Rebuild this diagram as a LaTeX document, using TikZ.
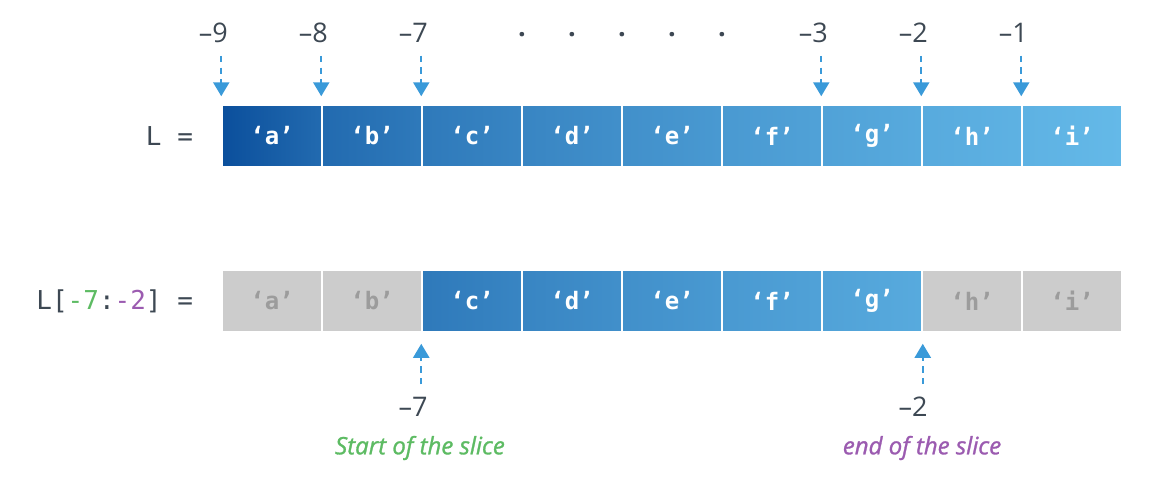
\documentclass[tikz,border=0pt]{standalone}
\usepackage{fontspec}
\setmainfont{Open Sans}
\setmonofont{DejaVu Sans Mono}
\newfontfamily\capfont[FakeBold=1.2]{Open Sans}
\usetikzlibrary{arrows.meta}

\definecolor{darkblue}{HTML}{0B4F9C}
\definecolor{lightblue}{HTML}{64B9E8}
\definecolor{arrowblue}{HTML}{3A9AD9}
\definecolor{greyfill}{HTML}{CCCCCC}
\definecolor{greytext}{HTML}{9C9C9C}
\definecolor{inkgrey}{HTML}{3D4853}
\definecolor{slicegreen}{HTML}{5DBB63}
\definecolor{slicepurple}{HTML}{9B5BB0}

\tikzset{
    cell/.style={minimum width=50pt, minimum height=31pt, inner sep=0pt,
        draw=white, line width=0.75pt, text=white,
        font=\ttfamily\bfseries\fontsize{12}{14}\selectfont},
    greycell/.style={cell, fill=greyfill, text=greytext},
    idx/.style={arrowblue, line width=1.1pt, dash pattern=on 3.2pt off 2.6pt,
        -{Triangle[width=8pt,length=7pt]}},
    num/.style={text=inkgrey, font=\fontsize{13.5}{15}\selectfont},
    lhs/.style={anchor=east, text=inkgrey, font=\ttfamily\fontsize{13}{15}\selectfont},
    caption/.style={font=\capfont\itshape\fontsize{12}{14}\selectfont},
}

\begin{document}
\begin{tikzpicture}[x=0.5pt, y=-0.5pt]
    \useasboundingbox (0,0) rectangle (1152,484);

    % the list L
    \node[lhs] (top) at (200,136) {L =};
    \foreach \l [count=\k from 0] in {a,b,c,d,e,f,g,h,i}{
        \pgfmathtruncatemacro{\pl}{100*(\k/9)^0.6}
        \pgfmathtruncatemacro{\pr}{100*((\k+1)/9)^0.6}
        \node[cell, left color=lightblue!\pl!darkblue, right color=lightblue!\pr!darkblue]
            (t\l) at (272+100*\k,136) {‘\l’};
    }

    % negative indices above
    \foreach \n/\l in {9/a,8/b,7/c,3/g,2/h,1/i}{
        \node[num] (up\n) at ([xshift=-4pt]t\l.north west |- 0,33) {–\n};
        \draw[idx, shorten <=3pt, shorten >=4pt] (t\l.north west |- up\n.south) -- (t\l.north west);
    }
    \foreach \x in {522,572,622,672,722}
        \node[num, font=\bfseries\fontsize{13.5}{15}\selectfont] (dot\x) at (\x,35) {.};

    % the slice L[-7:-2]
    \node[lhs] (bottom) at (200,301) {L[\textcolor{slicegreen}{-7}:\textcolor{slicepurple}{-2}] =};
    \foreach \l/\k in {a/0,b/1,h/7,i/8}
        \node[greycell] (b\l) at (272+100*\k,301) {‘\l’};
    \foreach \l/\k in {c/2,d/3,e/4,f/5,g/6}{
        \pgfmathtruncatemacro{\pl}{100*(\k/9)^0.6}
        \pgfmathtruncatemacro{\pr}{100*((\k+1)/9)^0.6}
        \node[cell, left color=lightblue!\pl!darkblue, right color=lightblue!\pr!darkblue]
            (b\l) at (272+100*\k,301) {‘\l’};
    }

    % start and end of the slice
    \node[num] (lo7) at (413,407) {–7};
    \node[num] (lo2) at (913,407) {–2};
    \draw[idx, shorten <=3pt, shorten >=5.5pt] (bc.south west |- lo7.north) -- (bc.south west);
    \draw[idx, shorten <=3pt, shorten >=5.5pt] (bg.south east |- lo2.north) -- (bg.south east);
    \node[caption, text=slicegreen] (startcap) at (420,448) {Start of the slice};
    \node[caption, text=slicepurple] (endcap) at (922,448) {end of the slice};
\end{tikzpicture}
\end{document}
